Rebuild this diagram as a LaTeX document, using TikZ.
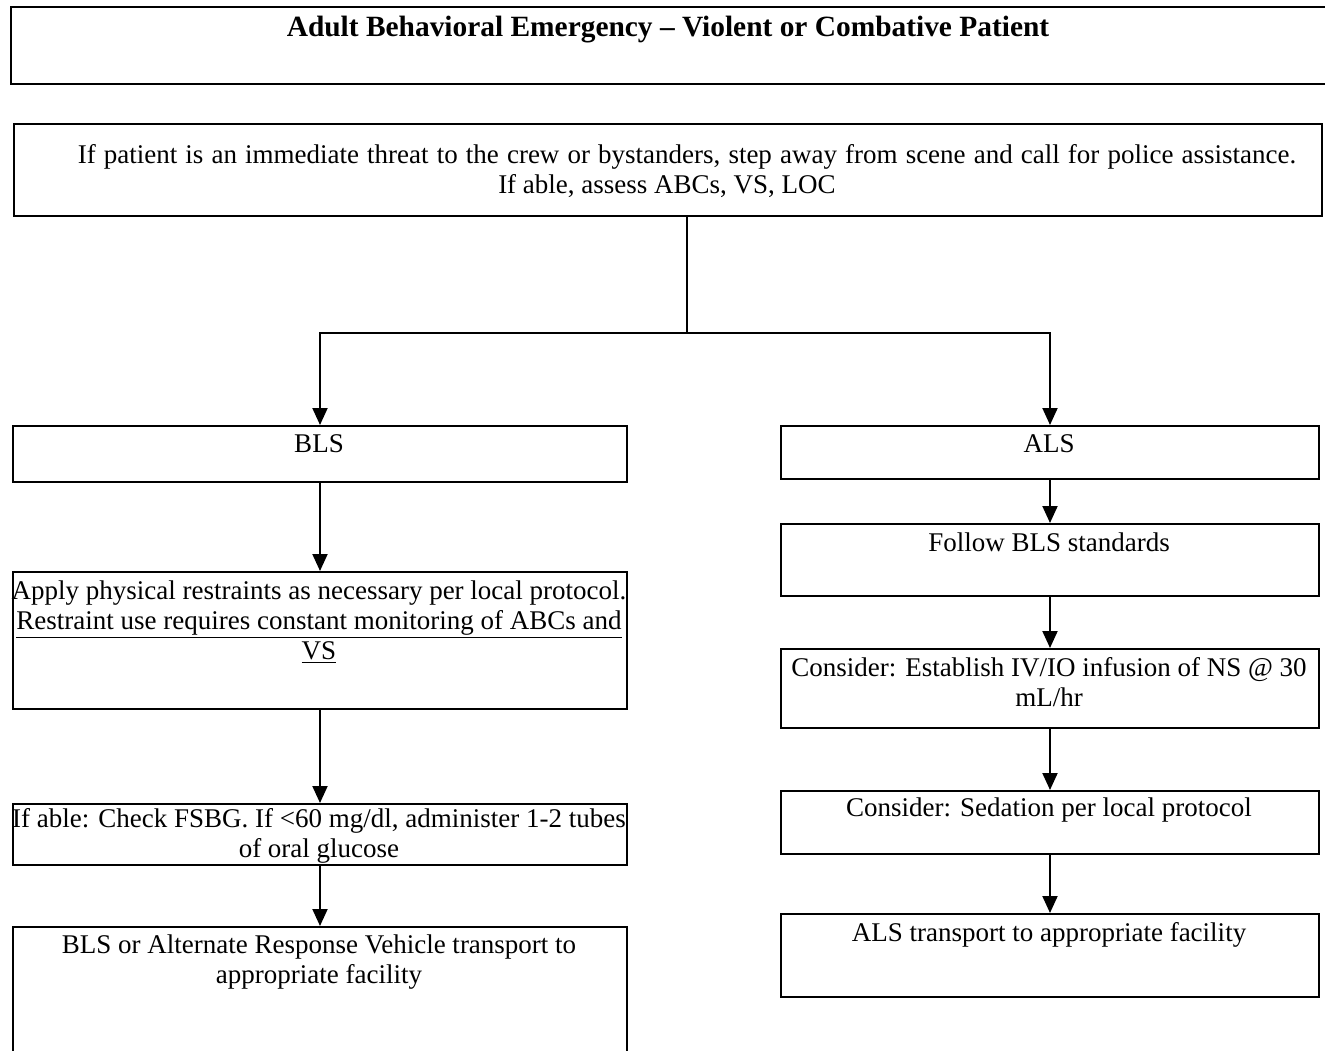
\documentclass[tikz,border=0pt]{standalone}
\usepackage{fontspec}
\setmainfont{Liberation Serif}
\usetikzlibrary{arrows.meta}
\begin{document}
\begin{tikzpicture}[x=1pt,y=-1pt,
  box/.style={draw=black, line width=2pt, rectangle, inner sep=0pt, anchor=north west},
  txt/.style={anchor=north, inner sep=0pt, align=center,
    font=\fontsize{27}{30}\selectfont},
  link/.style={draw=black, line width=2pt},
  arr/.style={link, -{Triangle[width=15pt,length=17pt]}}]
\useasboundingbox (0,0) rectangle (1325,1051);
\clip (0,0) rectangle (1325,1051);

% title banner (runs off the right edge)
\node[box, minimum width=1330pt, minimum height=77pt] (title) at (10,6) {};
\node[anchor=north, inner sep=0pt, font=\fontsize{29.4}{33}\selectfont\bfseries]
  (titletext) at (668,16) {Adult Behavioral Emergency – Violent or Combative Patient};

% opening assessment
\node[box, minimum width=1308pt, minimum height=92pt] (top) at (13,123) {};
\node[txt] (toptext) at (667,144) {\hspace*{40pt}{\spaceskip=0.30em plus 0.1em\relax If patient is an immediate threat to the crew or bystanders, step away from scene and call for police assistance.}\\
If able, assess ABCs, VS, LOC};

% BLS column
\node[box, minimum width=614pt, minimum height=56pt] (bls) at (12,425) {};
\node[txt] (blstext) at (319,434) {BLS};

\node[box, minimum width=614pt, minimum height=137pt] (apply) at (12,571) {};
\node[txt] (applytext) at (319,581) {Apply physical restraints as necessary per local protocol.\\
\underline{Restraint use requires constant monitoring of ABCs and}\\
\underline{VS}};

\node[box, minimum width=614pt, minimum height=61pt] (fsbg) at (12,803) {};
\node[txt] (fsbgtext) at (319,808) {If able: Check FSBG. If <60 mg/dl, administer 1-2 tubes\\
of oral glucose};

\node[box, minimum width=614pt, minimum height=160pt] (blstrans) at (12,926) {};
\node[txt] (blstranstext) at (319,935) {BLS or Alternate Response Vehicle transport to\\
appropriate facility};

% ALS column
\node[box, minimum width=538pt, minimum height=53pt] (als) at (780,425) {};
\node[txt] (alstext) at (1049,434) {ALS};

\node[box, minimum width=538pt, minimum height=72pt] (follow) at (780,523) {};
\node[txt] (followtext) at (1049,533) {Follow BLS standards};

\node[box, minimum width=538pt, minimum height=79pt] (iv) at (780,648) {};
\node[txt] (ivtext) at (1049,657) {Consider: Establish IV/IO infusion of NS @ 30\\
mL/hr};

\node[box, minimum width=538pt, minimum height=63pt] (sed) at (780,790) {};
\node[txt] (sedtext) at (1049,798) {Consider: Sedation per local protocol};

\node[box, minimum width=538pt, minimum height=83pt] (alstrans) at (780,913) {};
\node[txt] (alstranstext) at (1049,922) {ALS transport to appropriate facility};

% connectors
\coordinate (split) at (687,333);
\draw[link] (top.south -| split) -- (split);
\draw[arr] (split) -| (bls.north);
\draw[arr] (split) -| (als.north);

\draw[arr] (bls.south) -- (apply.north);
\draw[arr] (apply.south) -- (fsbg.north);
\draw[arr] (fsbg.south) -- (blstrans.north);

\draw[arr] (als.south) -- (follow.north);
\draw[arr] (follow.south) -- (iv.north);
\draw[arr] (iv.south) -- (sed.north);
\draw[arr] (sed.south) -- (alstrans.north);
\end{tikzpicture}
\end{document}
